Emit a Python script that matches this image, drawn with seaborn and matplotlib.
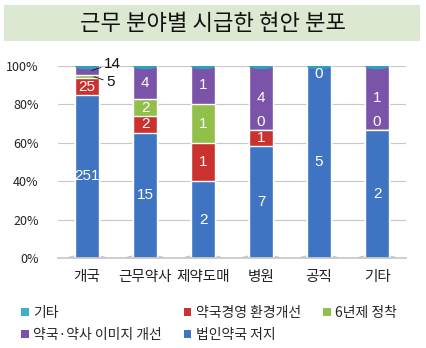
import numpy as np
import pandas as pd
import matplotlib
matplotlib.use("Agg")
import matplotlib.pyplot as plt
import seaborn as sns
from matplotlib.patches import Rectangle, Ellipse

categories = ["개국", "근무약사", "제약도매", "병원", "공직", "기타"]
series_names = ["법인약국 저지", "약국경영 환경개선", "6년제 정착", "약국·약사 이미지 개선", "기타"]
# np.nan = blank (no label); 0 = labelled zero
corp_block = [251, 15, 2, 7, 5, 2]
mgmt_env = [25, 2, 1, 1, np.nan, 0]
six_year = [5, 2, 1, 0, np.nan, np.nan]
image_up = [14, 4, 1, 4, 0, 1]
others = [np.nan, np.nan, np.nan, np.nan, np.nan, np.nan]
colors = ["#3f74c2", "#c9322e", "#92be4a", "#7b53a8", "#3fb0c8"]
yticks = [0, 20, 40, 60, 80, 100]

values = np.array([corp_block, mgmt_env, six_year, image_up, others], dtype=float)
filled = np.nan_to_num(values)
totals = filled.sum(axis=0)
pct = filled / totals * 100
cum = np.cumsum(pct, axis=0)

rows = []
for si, s in enumerate(series_names):
    for ci, c in enumerate(categories):
        rows.append(dict(series=s, category=c, value=values[si, ci],
                         pct=pct[si, ci], cum=cum[si, ci], bottom=cum[si, ci] - pct[si, ci]))
df = pd.DataFrame(rows)

sns.set_theme(style="white")
plt.rcParams["font.family"] = ["Noto Sans CJK KR", "DejaVu Sans"]
num_font = ["Liberation Sans Narrow", "Liberation Sans", "DejaVu Sans"]

fig = plt.figure(figsize=(4.26, 3.48), dpi=100)
fig.patches.append(Rectangle((4/426, 1-41/348), 416/426, 36/348, transform=fig.transFigure,
                             facecolor="#dde8d3", edgecolor="none", zorder=0))
fig.text(0.5, 1-23/348, "근무 분야별 시급한 현안 분포", ha="center", va="center",
         fontsize=16, color="#111111")

ax = fig.add_axes([58/426, 90/348, 348/426, 192/348])
bar_w = 0.42
for si in reversed(range(len(series_names))):
    sub = df[df.series == series_names[si]]
    sns.barplot(data=sub, x="category", y="cum", order=categories, color=colors[si],
                width=bar_w, saturation=1, ax=ax, zorder=2)

# cylinder caps / bottoms derived from drawn bars
bars = [p for p in ax.patches if isinstance(p, Rectangle)][:len(categories)]
for p in bars:
    xc = p.get_x() + p.get_width() / 2
    top = p.get_height()
    ax.add_patch(Ellipse((xc, 0), p.get_width() * 1.6, 3.5, facecolor="#9aa6b8",
                         edgecolor="none", alpha=0.6, zorder=1))
    ax.add_patch(Ellipse((xc, top), p.get_width(), 3.5, facecolor="#2f9fbf",
                         edgecolor="none", zorder=3))

ax.set_ylim(0, 100)
ax.set_xlim(-0.5, len(categories) - 0.5)
ax.set_yticks(yticks)
ax.set_yticklabels([f"{t}%" for t in yticks])
ax.yaxis.grid(True, color="#c8c8c8", linewidth=0.8, zorder=0)
ax.set_axisbelow(True)
for sp in ["top", "right", "left"]:
    ax.spines[sp].set_visible(False)
ax.spines["bottom"].set_color("#c8c8c8")
ax.set_xlabel("")
ax.set_ylabel("")
ax.tick_params(axis="y", length=0, pad=14, labelsize=9, labelcolor="#222222")
ax.tick_params(axis="x", length=0, pad=9, labelsize=10.5, labelcolor="#222222")

# data labels
for ci, c in enumerate(categories):
    for si in range(len(series_names)):
        v = values[si, ci]
        if np.isnan(v):
            continue
        mid = cum[si, ci] - pct[si, ci] / 2
        if ci == 0 and si >= 2:
            # small slices labelled outside with leader lines
            if si == 3:
                xy, off = (ci + 0.08, mid), (9, 5)
            else:
                xy, off = (ci + 0.12, mid), (9, -4)
            ax.annotate(f"{int(v)}", xy=xy, xytext=off,
                        textcoords="offset points", ha="left", va="center", fontsize=11,
                        color="#111111", fontfamily=num_font,
                        arrowprops=dict(arrowstyle="-", color="#222222", lw=0.7,
                                        shrinkA=0, shrinkB=0), zorder=6)
            continue
        if v == 0:
            y = min(cum[si, ci] + 4, 96)
        else:
            y = mid
        ax.text(ci, y, f"{int(v)}", ha="center", va="center", fontsize=11,
                color="white", fontfamily=num_font, zorder=5)

handles = [Rectangle((0, 0), 1, 1, facecolor=col, edgecolor="none") for col in colors]
order = [4, 3, 1, 0, 2]
fig.legend([handles[i] for i in order], [series_names[i] for i in order],
           loc="center", bbox_to_anchor=(0.49, 1 - 324/348), ncol=3, frameon=False,
           fontsize=10, handlelength=0.55, handleheight=0.55, handletextpad=0.3,
           columnspacing=1.6, labelspacing=0.6)

fig.savefig("out.png", dpi=100)
